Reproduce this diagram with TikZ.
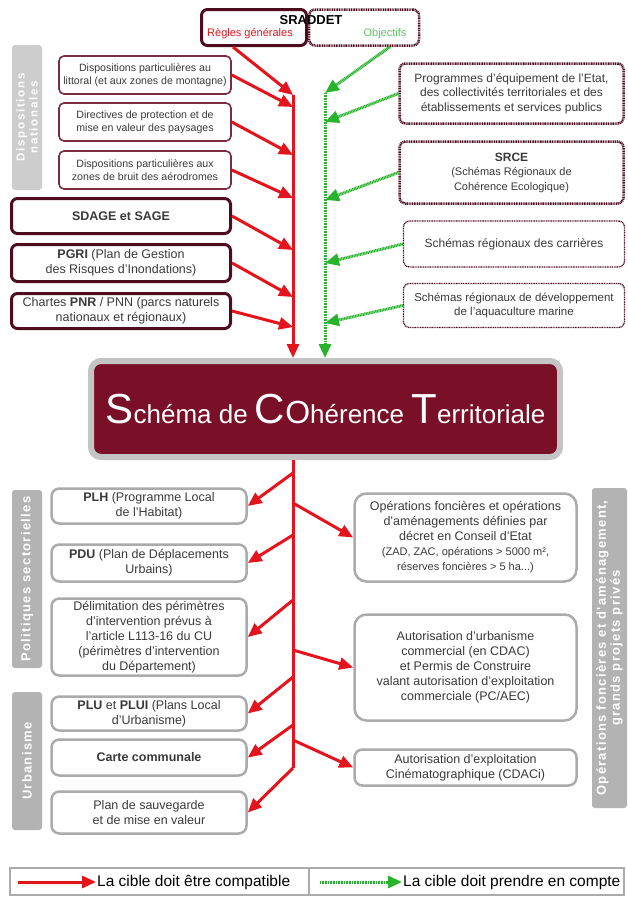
\documentclass[tikz,border=0pt]{standalone}
\usepackage{fontspec}
\setmainfont{Liberation Sans}
\newfontfamily\tagfont[LetterSpace=10]{Liberation Sans}
\newfontfamily\tagfontwide[LetterSpace=15]{Liberation Sans}
\usepackage{xcolor}
\usepackage{tikz}
\usetikzlibrary{arrows.meta}
\definecolor{wine}{HTML}{7A2C40}
\definecolor{bordeaux}{HTML}{4E0C1F}
\definecolor{scotred}{HTML}{7A1027}
\definecolor{trunkred}{HTML}{E5131B}
\definecolor{trunkgreen}{HTML}{27B42C}
\definecolor{edgegrey}{HTML}{ABABAB}
\definecolor{tagfill}{HTML}{B3B3B3}
\definecolor{taglight}{HTML}{CDCDCD}
\definecolor{ink}{HTML}{3A3A3A}

\newcommand{\scotcap}[1]{{\fontsize{42}{42}\selectfont #1}}
\newcommand{\smallline}{\fontsize{11}{13}\selectfont}

\begin{document}
\begin{tikzpicture}[
        x=1pt, y=-1pt,
        natbox/.style={
            rectangle,
            rounded corners=5pt,
            draw=wine,
            line width=1.6pt,
            fill=white,
            text=ink,
            align=center,
            font=\fontsize{10.6}{13}\selectfont,
            minimum width=172pt,
            minimum height=38pt,
            inner sep=1pt
        },
        heavybox/.style={
            rectangle,
            rounded corners=6pt,
            draw=bordeaux,
            line width=3pt,
            fill=white,
            text=ink,
            align=center,
            font=\fontsize{12.5}{15}\selectfont,
            minimum width=219pt,
            inner sep=1pt
        },
        dotbox/.style={
            rectangle,
            rounded corners=6pt,
            draw=bordeaux,
            dash pattern=on 1pt off 0.7pt,
            fill=white,
            text=ink,
            align=center,
            font=\fontsize{12}{14.5}\selectfont,
            inner sep=1pt
        },
        lowbox/.style={
            rectangle,
            rounded corners=8pt,
            draw=edgegrey,
            line width=2.5pt,
            fill=white,
            text=ink,
            align=center,
            font=\fontsize{12.5}{15}\selectfont,
            minimum width=195pt,
            inner sep=1pt
        },
        scotbox/.style={
            rectangle,
            rounded corners=10pt,
            draw=edgegrey!70,
            line width=6pt,
            fill=scotred,
            text=white,
            font=\fontsize{26}{26}\selectfont,
            minimum width=469pt,
            minimum height=96pt
        },
        tag/.style={
            rectangle,
            rounded corners=3pt,
            fill=tagfill,
            text=white,
            align=center,
            font=\tagfont\bfseries\fontsize{13}{14}\selectfont,
            inner sep=1pt
        },
        legbox/.style={
            rectangle,
            draw=edgegrey,
            line width=2pt,
            fill=white,
            minimum height=27pt
        },
        legtext/.style={
            anchor=west,
            text=black,
            font=\fontsize{15.5}{16}\selectfont,
            inner sep=1pt
        },
        redtrunk/.style={
            draw=trunkred,
            line width=3pt
        },
        redarrow/.style={
            draw=trunkred,
            fill=trunkred,
            line width=3pt,
            -{Triangle[length=14pt,width=12pt]}
        },
        greenarrow/.style={
            draw=trunkgreen,
            fill=trunkgreen,
            line width=3pt,
            dash pattern=on 1pt off 0.6pt,
            -{Triangle[length=14pt,width=12pt]}
        }
    ]
        \useasboundingbox[fill=white] (0,0) rectangle (628,897);

        % SRADDET
        \node[dotbox, line width=2.5pt, minimum width=110pt, minimum height=36pt] (objectifs) at (364,27.5) {};
        \node[heavybox, minimum width=105pt, minimum height=36pt] (regles) at (254,27.5) {};
        \node[font=\bfseries\fontsize{13}{13}\selectfont] (sraddet) at (311,20) {SRADDET};
        \node[font=\fontsize{11}{11}\selectfont, text=trunkred] (reglestxt) at (250,34) {Règles générales};
        \node[font=\fontsize{11}{11}\selectfont, text=trunkgreen!75!white] (objtxt) at (385,34) {Objectifs};

        % dispositions nationales
        \node[tag, fill=taglight, rotate=90, minimum width=145pt, minimum height=30pt,
              font=\tagfontwide\bfseries\fontsize{11.5}{13}\selectfont] (nationales) at (27,117.5) {Dispositions\\nationales};
        \node[natbox] (littoral) at (145,75) {Dispositions particulières au\\littoral (et aux zones de montagne)};
        \node[natbox] (paysages) at (145,122) {Directives de protection et de\\mise en valeur des paysages};
        \node[natbox] (bruit) at (145,170) {Dispositions particulières aux\\zones de bruit des aérodromes};
        \node[heavybox, minimum height=35pt] (sdage) at (121,216) {\textbf{SDAGE et SAGE}};
        \node[heavybox, minimum height=37pt] (pgri) at (121,263) {\textbf{PGRI} (Plan de Gestion\\des Risques d'Inondations)};
        \node[heavybox, minimum height=35pt] (pnr) at (121,311) {Chartes \textbf{PNR} / PNN (parcs naturels\\nationaux et régionaux)};

        % schemas a prendre en compte
        \node[dotbox, line width=2.5pt, minimum width=224pt, minimum height=60pt] (equipement) at (511.5,93.5)
            {Programmes d'équipement de l'Etat,\\des collectivités territoriales et des\\établissements et services publics};
        \node[dotbox, line width=2.5pt, minimum width=224pt, minimum height=62pt] (srce) at (511.5,172.5)
            {\textbf{SRCE}\\\smallline (Schémas Régionaux de\\\smallline Cohérence Ecologique)};
        \node[dotbox, line width=1.3pt, minimum width=221pt, minimum height=46pt] (carrieres) at (514,244)
            {Schémas régionaux des carrières};
        \node[dotbox, line width=1.3pt, minimum width=221pt, minimum height=44pt,
              font=\fontsize{11.5}{14}\selectfont] (aquaculture) at (514,305.5)
            {Schémas régionaux de développement\\de l'aquaculture marine};

        % SCoT
        \node[scotbox] (scot) at (325.5,409)
            {\scotcap{S}chéma de \scotcap{C}{\fontsize{32}{32}\selectfont O}hérence \scotcap{T}erritoriale};

        % trunk points
        \coordinate (r0) at (293,95);
        \coordinate (r1) at (293,107);
        \coordinate (r2) at (293,155);
        \coordinate (r3) at (293,198);
        \coordinate (r4) at (293,250);
        \coordinate (r5) at (293,297);
        \coordinate (r6) at (293,327);
        \coordinate (g0) at (325,93);
        \coordinate (g1) at (325,122);
        \coordinate (g2) at (325,200);
        \coordinate (g3) at (325,263);
        \coordinate (g4) at (325,323);

        % compatibility (red) above
        \draw[redarrow] (r0) -- (r0 |- scot.north);
        \draw[redarrow] ([xshift=-21pt]regles.south) -- (r0);
        \draw[redarrow] (littoral.east) -- (r1);
        \draw[redarrow] (paysages.east) -- (r2);
        \draw[redarrow] (bruit.east) -- (r3);
        \draw[redarrow] (sdage.east) -- (r4);
        \draw[redarrow] (pgri.east) -- (r5);
        \draw[redarrow] (pnr.east) -- (r6);

        % prise en compte (green) above
        \draw[greenarrow] (g0) -- (g0 |- scot.north);
        \draw[greenarrow] ([xshift=26pt]objectifs.south) -- (g0);
        \draw[greenarrow] (equipement.west) -- (g1);
        \draw[greenarrow] (srce.west) -- (g2);
        \draw[greenarrow] (carrieres.west) -- (g3);
        \draw[greenarrow] (aquaculture.west) -- (g4);

        % politiques sectorielles
        \node[tag, rotate=90, minimum width=178pt, minimum height=30pt] (politiques) at (27,579) {Politiques sectorielles};
        \node[lowbox, minimum height=35pt] (plh) at (149,506) {\textbf{PLH} (Programme Local\\de l'Habitat)};
        \node[lowbox, minimum height=37pt] (pdu) at (149,563) {\textbf{PDU} (Plan de Déplacements\\Urbains)};
        \node[lowbox, minimum height=77pt] (perimetres) at (149,637)
            {Délimitation des périmètres\\d'intervention prévus à\\l'article L113-16 du CU\\(périmètres d'intervention\\du Département)};

        % urbanisme
        \node[tag, rotate=90, minimum width=138pt, minimum height=30pt] (urbanisme) at (27,761) {Urbanisme};
        \node[lowbox, minimum height=34pt] (plu) at (149,713.5) {\textbf{PLU} et \textbf{PLUI} (Plans Local\\d'Urbanisme)};
        \node[lowbox, minimum height=36pt] (carte) at (149,757.5) {\textbf{Carte communale}};
        \node[lowbox, minimum height=42pt] (sauvegarde) at (149,812.5) {Plan de sauvegarde\\et de mise en valeur};

        % operations
        \node[lowbox, rounded corners=12pt, minimum width=222pt, minimum height=88pt] (foncier) at (465.5,537.5)
            {Opérations foncières et opérations\\d'aménagements définies par\\décret en Conseil d'Etat\\\smallline (ZAD, ZAC, opérations > 5000 m²,\\\smallline réserves foncières > 5 ha...)};
        \node[lowbox, rounded corners=12pt, minimum width=222pt, minimum height=106pt] (commerce) at (465.5,667.5)
            {Autorisation d'urbanisme\\commercial (en CDAC)\\et Permis de Construire\\valant autorisation d'exploitation\\commerciale (PC/AEC)};
        \node[lowbox, minimum width=222pt, minimum height=36pt] (cinema) at (465.5,767.5)
            {Autorisation d'exploitation\\Cinématographique (CDACi)};
        \node[tag, rotate=90, minimum width=320pt, minimum height=35pt] (operations) at (609.5,648)
            {Opérations foncières et d'aménagement,\\grands projets privés};

        % compatibility (red) below
        \coordinate (s1) at (293,473);
        \coordinate (s2) at (293,503);
        \coordinate (s3) at (293,535);
        \coordinate (s4) at (293,600);
        \coordinate (s5) at (293,650);
        \coordinate (s6) at (293,677);
        \coordinate (s7) at (293,725);
        \coordinate (s8) at (293,740);
        \coordinate (s9) at (293,768);
        \draw[redtrunk] (s1 |- scot.south) -- (s9);
        \draw[redarrow] (s1) -- (plh.east);
        \draw[redarrow] (s2) -- (foncier.west);
        \draw[redarrow] (s3) -- (pdu.east);
        \draw[redarrow] (s4) -- (perimetres.east);
        \draw[redarrow] (s5) -- (commerce.west);
        \draw[redarrow] (s6) -- (plu.east);
        \draw[redarrow] (s7) -- (carte.east);
        \draw[redarrow] (s8) -- (cinema.west);
        \draw[redarrow] (s9) -- (sauvegarde.east);

        % legend
        \node[legbox, minimum width=299pt] (legleft) at (159.5,881.5) {};
        \node[legbox, minimum width=315pt] (legright) at (466.5,881.5) {};
        \node[legtext] (compatible) at (96,882) {La cible doit être compatible};
        \node[legtext] (encompte) at (402,882) {La cible doit prendre en compte};
        \coordinate (compatiblestart) at (18,882);
        \coordinate (encomptestart) at (320,882);
        \draw[redarrow] (compatiblestart) -- (compatible.west);
        \draw[greenarrow] (encomptestart) -- (encompte.west);
    \end{tikzpicture}
\end{document}
